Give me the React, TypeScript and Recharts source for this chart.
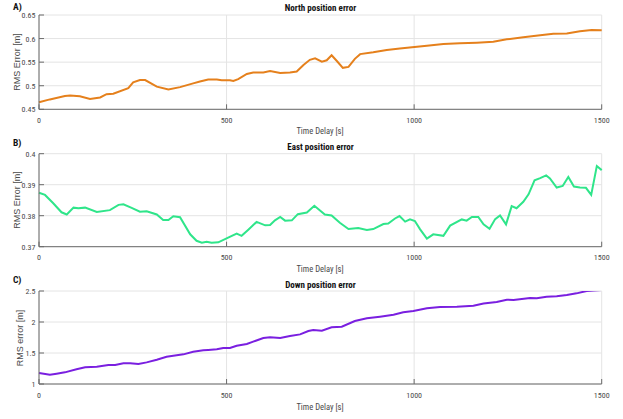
import React from "react";
import { LineChart, Line, XAxis, YAxis, CartesianGrid } from "recharts";

// ---- Data ----
const northTime = [0, 29, 69, 83, 109, 136, 163, 180, 198, 238, 251, 269, 283, 314, 345, 376, 411, 429, 451, 474, 487, 509, 518, 531, 554, 571, 598, 616, 643, 669, 687, 705, 722, 736, 754, 767, 780, 794, 810, 825, 842, 856, 891, 927, 962, 1001, 1034, 1078, 1122, 1167, 1211, 1247, 1291, 1336, 1371, 1407, 1442, 1473, 1500];
const northRms = [0.465, 0.471, 0.478, 0.479, 0.4776, 0.472, 0.475, 0.482, 0.483, 0.495, 0.507, 0.512, 0.512, 0.498, 0.492, 0.497, 0.505, 0.509, 0.513, 0.513, 0.5115, 0.5115, 0.51, 0.514, 0.525, 0.528, 0.528, 0.531, 0.527, 0.528, 0.53, 0.544, 0.555, 0.558, 0.551, 0.554, 0.5645, 0.5525, 0.538, 0.54, 0.557, 0.567, 0.571, 0.576, 0.579, 0.582, 0.585, 0.5886, 0.59, 0.5914, 0.5935, 0.5985, 0.6027, 0.607, 0.61, 0.611, 0.6155, 0.618, 0.6176];

const eastTime = [0, 16, 38, 60, 74, 92, 105, 123, 154, 189, 212, 225, 247, 269, 287, 314, 331, 345, 358, 376, 403, 420, 434, 447, 460, 478, 500, 527, 540, 558, 580, 603, 616, 629, 643, 656, 674, 690, 714, 734, 762, 780, 802, 825, 851, 874, 891, 918, 931, 949, 961, 976, 989, 1002, 1016, 1034, 1051, 1078, 1096, 1127, 1140, 1154, 1171, 1185, 1201, 1216, 1229, 1245, 1260, 1273, 1291, 1305, 1321, 1336, 1352, 1362, 1380, 1396, 1411, 1426, 1442, 1458, 1472, 1487, 1500];
const eastRms = [0.3874, 0.3867, 0.384, 0.3811, 0.3804, 0.3826, 0.3824, 0.3826, 0.3812, 0.3818, 0.3835, 0.3837, 0.3825, 0.3813, 0.3814, 0.3804, 0.3786, 0.3786, 0.3798, 0.3795, 0.374, 0.3719, 0.3713, 0.3716, 0.3713, 0.3714, 0.3727, 0.3742, 0.3735, 0.3755, 0.378, 0.3769, 0.377, 0.3785, 0.3796, 0.3784, 0.3785, 0.3805, 0.381, 0.3832, 0.3804, 0.3801, 0.3777, 0.3757, 0.376, 0.3754, 0.3757, 0.3773, 0.3775, 0.3791, 0.3799, 0.3781, 0.3788, 0.3783, 0.3756, 0.3726, 0.374, 0.3735, 0.3768, 0.3788, 0.3784, 0.3796, 0.3796, 0.3772, 0.3758, 0.3789, 0.3801, 0.3772, 0.3831, 0.3824, 0.3845, 0.3869, 0.3914, 0.3921, 0.393, 0.392, 0.3891, 0.3896, 0.3925, 0.3894, 0.3891, 0.389, 0.3867, 0.396, 0.3947];

const downTime = [0, 29, 47, 69, 100, 123, 154, 185, 203, 225, 243, 265, 287, 314, 340, 367, 385, 411, 438, 451, 474, 491, 509, 527, 554, 571, 598, 616, 643, 669, 696, 718, 731, 754, 780, 807, 842, 874, 909, 945, 971, 998, 1034, 1069, 1114, 1158, 1185, 1220, 1247, 1265, 1309, 1327, 1353, 1380, 1407, 1433, 1460, 1478, 1500];
const downRms = [1.177, 1.15, 1.167, 1.188, 1.237, 1.269, 1.28, 1.306, 1.306, 1.333, 1.333, 1.323, 1.349, 1.392, 1.44, 1.462, 1.478, 1.521, 1.543, 1.548, 1.559, 1.581, 1.581, 1.618, 1.645, 1.683, 1.742, 1.753, 1.742, 1.774, 1.8, 1.855, 1.871, 1.86, 1.914, 1.925, 2.016, 2.059, 2.086, 2.118, 2.156, 2.177, 2.22, 2.242, 2.247, 2.263, 2.3, 2.322, 2.36, 2.355, 2.387, 2.382, 2.409, 2.414, 2.435, 2.462, 2.5, 2.51, 2.516];

const xTicks = [0, 500, 1000, 1500];
const northTicks = [0.45, 0.5, 0.55, 0.6, 0.65];
const eastTicks = [0.37, 0.38, 0.39, 0.4];
const downTicks = [1, 1.5, 2, 2.5];

const panelLetters = ["A)", "B)", "C)"];
const titles = ["North position error", "East position error", "Down position error"];
const xLabel = "Time Delay [s]";
const yLabels = ["RMS Error [m]", "RMS Error [m]", "RMS error [m]"];

// ---- Styles ----
const NARROW = "'Liberation Sans Narrow', 'Arial Narrow', 'Roboto Condensed', sans-serif";
const SANS = "'Liberation Sans', Arial, sans-serif";
const AXIS = "#6b6b6b";
const GRID = "#e4e4e4";
const TICKTXT = "#4a4a4a";

const build = (t: number[], v: number[]) => t.map((x, i) => ({ t: x, v: v[i] }));

const XTick = (props: any) => {
  const { x, y, payload } = props;
  return (
    <g>
      <line x1={x} x2={x} y1={y} y2={y - 5} stroke={AXIS} strokeWidth={1} />
      <text x={x} y={y + 13.5} textAnchor="middle" fontSize={8} fill={TICKTXT} fontFamily={NARROW}>
        {payload.value}
      </text>
    </g>
  );
};

const YTick = (props: any) => {
  const { x, y, payload } = props;
  return (
    <g>
      <line x1={x} x2={x + 5} y1={y} y2={y} stroke={AXIS} strokeWidth={1} />
      <text x={x - 3.5} y={y + 3} textAnchor="end" fontSize={8} fill={TICKTXT} fontFamily={NARROW}>
        {payload.value}
      </text>
    </g>
  );
};

type PanelProps = {
  top: number;
  height: number;
  mTop: number;
  mBottom: number;
  data: { t: number; v: number }[];
  domain: [number, number];
  ticks: number[];
  color: string;
};

const XH = 20;

const Panel = ({ top, height, mTop, mBottom, data, domain, ticks, color }: PanelProps) => (
  <div style={{ position: "absolute", left: 0, top, width: 623, height }}>
    <LineChart width={623} height={height} data={data} margin={{ top: mTop, right: 21.3, bottom: mBottom - XH, left: 0 }}>
      <CartesianGrid stroke={GRID} strokeWidth={1} />
      <XAxis
        dataKey="t"
        type="number"
        domain={[0, 1500]}
        ticks={xTicks}
        interval={0}
        height={XH}
        tickSize={0}
        tickMargin={0}
        tickLine={false}
        axisLine={{ stroke: AXIS, strokeWidth: 1 }}
        tick={XTick}
      />
      <YAxis
        type="number"
        domain={domain}
        ticks={ticks}
        interval={0}
        width={39}
        tickSize={0}
        tickMargin={0}
        tickLine={false}
        allowDataOverflow
        axisLine={{ stroke: AXIS, strokeWidth: 1 }}
        tick={YTick}
      />
      <Line dataKey="v" type="linear" stroke={color} strokeWidth={2} dot={false} isAnimationActive={false} />
    </LineChart>
  </div>
);

export default function App() {
  const letterY = [10, 146, 283];
  const titleY = [11, 150, 288];
  const xLabY = [134, 272, 410];
  const yLabPos = [
    [16.5, 62],
    [16.5, 200],
    [19.5, 338],
  ];
  return (
    <div style={{ position: "absolute", left: 0, top: 0, width: 623, height: 419, background: "#fff", overflow: "hidden" }}>
      <Panel top={0} height={138} mTop={15} mBottom={28.7} data={build(northTime, northRms)} domain={[0.45, 0.65]} ticks={northTicks} color="#E5801C" />
      <Panel top={138} height={138} mTop={15.7} mBottom={29.3} data={build(eastTime, eastRms)} domain={[0.37, 0.4]} ticks={eastTicks} color="#2FE58A" />
      <Panel top={276} height={143} mTop={15} mBottom={35} data={build(downTime, downRms)} domain={[1, 2.5]} ticks={downTicks} color="#7A1FE0" />
      <svg width={623} height={419} style={{ position: "absolute", left: 0, top: 0, pointerEvents: "none" }}>
        {panelLetters.map((l, i) => (
          <text key={"l" + i} x={13} y={letterY[i]} fontSize={9.5} fontWeight="bold" fontFamily={NARROW} fill="#111">
            {l}
          </text>
        ))}
        {titles.map((t, i) => (
          <text key={"t" + i} x={320.5} y={titleY[i]} textAnchor="middle" fontSize={9} fontWeight="bold" fontFamily={NARROW} fill="#111">
            {t}
          </text>
        ))}
        {[0, 1, 2].map((i) => (
          <text key={"x" + i} x={320} y={xLabY[i]} textAnchor="middle" fontSize={8.5} fontFamily={NARROW} fill={TICKTXT}>
            {xLabel}
          </text>
        ))}
        {yLabels.map((t, i) => (
          <text
            key={"y" + i}
            x={yLabPos[i][0]}
            y={yLabPos[i][1]}
            textAnchor="middle"
            fontSize={9}
            fontFamily={SANS}
            fill={TICKTXT}
            transform={`rotate(-90 ${yLabPos[i][0]} ${yLabPos[i][1]})`}
            dominantBaseline="central"
          >
            {t}
          </text>
        ))}
      </svg>
    </div>
  );
}
